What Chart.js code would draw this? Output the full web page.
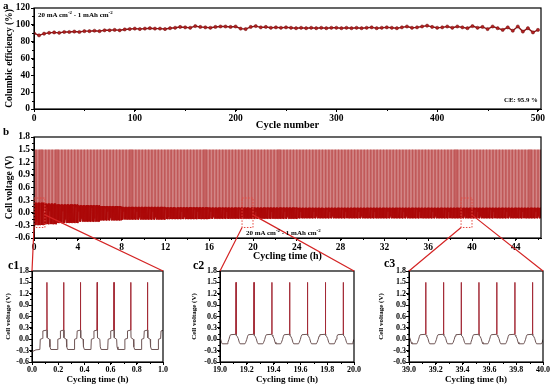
<!DOCTYPE html>
<html>
<head>
<meta charset="utf-8">
<script src="https://cdn.jsdelivr.net/npm/chart.js@4.4.1/dist/chart.umd.min.js"></script>
<style>
  body { margin: 0; width: 556px; height: 385px; background: #fff; position: relative; overflow: hidden;
         font-family: "Liberation Serif", "Times New Roman", serif; font-weight: bold; color: #000; }
  canvas { position: absolute; }
  .lbl { position: absolute; white-space: nowrap; line-height: 1; }
  .lbl sup { font-size: 70%; vertical-align: top; position: relative; top: -0.25em; }
</style>
</head>
<body>
<canvas id="ca" width="556" height="134" style="left:0;top:0"></canvas>
<canvas id="cb" width="556" height="139" style="left:0;top:124px"></canvas>
<canvas id="cc1" width="185" height="127" style="left:0;top:258px"></canvas>
<canvas id="cc2" width="185" height="127" style="left:185px;top:258px"></canvas>
<canvas id="cc3" width="186" height="127" style="left:370px;top:258px"></canvas>
<canvas id="ov" width="556" height="385" style="left:0;top:0;pointer-events:none"></canvas>

<div class="lbl" style="left:3px;top:0;font-size:11px">a</div>
<div class="lbl" style="left:38px;top:12px;font-size:7px">20 mA cm<sup>-2</sup> - 1 mAh cm<sup>-2</sup></div>
<div class="lbl" style="left:504px;top:97px;font-size:6.8px">CE: 95.9 %</div>
<div class="lbl" style="left:3px;top:126px;font-size:11px">b</div>
<div class="lbl" style="left:246px;top:230px;font-size:7px">20 mA cm<sup>-2</sup> - 1 mAh cm<sup>-2</sup></div>
<div class="lbl" style="left:8px;top:259px;font-size:12px">c1</div>
<div class="lbl" style="left:193px;top:259px;font-size:12px">c2</div>
<div class="lbl" style="left:384px;top:257px;font-size:12px">c3</div>

<script>
// ---- panel a: coulombic efficiency ----
const ceCycles = [0,5,10,15,20,25,30,35,40,45,50,55,60,65,70,75,80,85,90,95,
  100,105,110,115,120,125,130,135,140,145,150,155,160,165,170,175,180,185,190,195,
  200,205,210,215,220,225,230,235,240,245,250,255,260,265,270,275,280,285,290,295,
  300,305,310,315,320,325,330,335,340,345,350,355,360,365,370,375,380,385,390,395,
  400,405,410,415,420,425,430,435,440,445,450,455,460,465,470,475,480,485,490,495,500];
const ceValues = [90.0,87.5,89.5,90.5,91.0,90.5,91.5,91.5,92.0,91.5,92.5,92.5,93.0,92.5,93.5,93.5,94.0,93.5,94.5,95.0,
  95.5,95.0,95.5,96.0,95.5,95.5,95.0,96.0,96.5,97.5,97.0,96.5,98.5,97.5,97.0,96.5,97.5,98.0,98.0,97.5,
  98.0,95.5,95.0,97.5,98.5,97.0,97.5,96.5,97.0,96.5,97.0,96.5,96.0,96.5,96.0,96.5,96.0,96.5,96.0,96.5,
  96.5,96.0,96.5,96.0,96.5,96.0,96.5,97.0,96.0,96.5,97.0,96.5,96.0,97.0,98.0,96.5,97.0,98.0,99.0,97.5,
  96.5,97.0,98.0,96.5,98.0,97.0,96.0,98.5,96.5,97.5,95.0,98.0,96.0,94.0,97.0,93.0,98.0,92.0,96.0,91.0,94.0];
const ceTickX = [0, 100, 200, 300, 400, 500];
const ceTickY = [0, 20, 40, 60, 80, 100, 120];

const earlyDt   = [0, 0.001, 0.002, 0.020, 0.023, 0.030, 0.080, 0.083, 0.100, 0.103, 0.126];
const earlyVolt = [1.50, 0.24, 0.04, 0.00, -0.20, -0.27, -0.27, 0.00, 0.02, 0.22, 0.24];
const lateDt    = [0, 0.001, 0.002, 0.008, 0.016, 0.024, 0.030, 0.066, 0.072, 0.080, 0.086, 0.092, 0.131];
const lateVolt  = [1.50, 0.13, 0.10, 0.08, 0.02, -0.08, -0.12, -0.12, -0.08, 0.00, 0.08, 0.12, 0.13];

const startT = [0.000, 0.030, 0.060, 0.063, 0.080, 0.083, 0.112];
const startV = [-0.33, -0.28, -0.27, 0.00, 0.02, 0.22, 0.24];
const c1Spikes = [0.114, 0.242, 0.370, 0.498, 0.626, 0.754, 0.882];
const c2Spikes = [18.987, 19.120, 19.254, 19.387, 19.520, 19.653, 19.787, 19.920];
const c3Spikes = [38.992, 39.125, 39.258, 39.390, 39.522, 39.655, 39.790, 39.922];

// panel b: cycle period and the low / high plateau levels as they narrow over time
const bPeriod = 0.1325, bFirstSpike = 0.114, bEnd = 46.3, bEarlyUntil = 1;
const bEnvHours = [0, 1, 2, 4, 6, 8, 12, 16, 24];
const bEnvLow   = [-0.29, -0.27, -0.24, -0.21, -0.18, -0.16, -0.15, -0.14, -0.13];
const bEnvHigh  = [0.24, 0.22, 0.20, 0.18, 0.16, 0.14, 0.13, 0.125, 0.12];
const bTickX = [0, 4, 8, 12, 16, 20, 24, 28, 32, 36, 40, 44];
const voltTicks = [-0.6, -0.3, 0, 0.3, 0.6, 0.9, 1.2, 1.5, 1.8];

// zoomed windows shown in c1..c3
const zoomWindows = [[0, 1], [19, 20], [39, 40]];
const zoomTicks = [
  [0, 0.2, 0.4, 0.6, 0.8, 1.0],
  [19.0, 19.2, 19.4, 19.6, 19.8, 20.0],
  [39.0, 39.2, 39.4, 39.6, 39.8, 40.0]
];
const zoomVolt = [-0.35, 0.35];

function cyclePoints(spikes, dt, volt, env, refLo, refHi) {
  const pts = [];
  spikes.forEach(s => {
    let lo = refLo, hi = refHi;
    if (env) { [lo, hi] = env(s); }
    dt.forEach((d, i) => {
      let v = volt[i];
      if (v < 1) v = v < 0 ? v * lo / refLo : v * hi / refHi;
      pts.push({ x: s + d, y: v });
    });
  });
  return pts;
}

function envAt(t) {
  let k = 0;
  bEnvHours.forEach((h, i) => { if (t >= h) k = i; });
  return [bEnvLow[k], bEnvHigh[k]];
}

const startPts = startT.map((t, i) => ({ x: t, y: startV[i] }));
const c1Data = startPts.concat(cyclePoints(c1Spikes, earlyDt, earlyVolt, null, -0.27, 0.24));
const c2Data = cyclePoints(c2Spikes, lateDt, lateVolt, null, -0.12, 0.13);
const c3Data = cyclePoints(c3Spikes, lateDt, lateVolt, null, -0.12, 0.13);

const bEarly = [], bLate = [];
for (let s = bFirstSpike; s < bEnd + bPeriod; s += bPeriod) (s < bEarlyUntil ? bEarly : bLate).push(s);
const bData = startPts
  .concat(cyclePoints(bEarly, earlyDt, earlyVolt, envAt, -0.27, 0.24))
  .concat(cyclePoints(bLate, lateDt, lateVolt, envAt, -0.12, 0.13));

// ---- chart helpers ----
const serif = '"Liberation Serif", "Times New Roman", serif';

// box around the plot area plus short minor ticks
const framePlugin = {
  id: 'frame',
  afterDraw(chart, args, opts) {
    const { ctx, chartArea: a, scales: { x, y } } = chart;
    ctx.save();
    ctx.strokeStyle = '#000';
    ctx.lineWidth = 1.2;
    ctx.strokeRect(a.left, a.top, a.right - a.left, a.bottom - a.top);
    ctx.lineWidth = 1;
    ctx.beginPath();
    for (let v = Math.ceil(x.min / opts.xMinor - 1e-6) * opts.xMinor; v <= x.max + 1e-9; v += opts.xMinor) {
      const px = Math.round(x.getPixelForValue(v)) + 0.5;
      ctx.moveTo(px, a.bottom); ctx.lineTo(px, a.bottom + 2);
    }
    for (let v = Math.ceil(y.min / opts.yMinor - 1e-6) * opts.yMinor; v <= y.max + 1e-9; v += opts.yMinor) {
      const py = Math.round(y.getPixelForValue(v)) + 0.5;
      ctx.moveTo(a.left, py); ctx.lineTo(a.left - 2, py);
    }
    ctx.stroke();
    ctx.restore();
  }
};
Chart.register(framePlugin);

function axis(o) {
  return {
    type: 'linear',
    min: o.min, max: o.max,
    afterBuildTicks: s => { s.ticks = o.ticks.map(v => ({ value: v })); },
    afterFit: s => {
      if (s.isHorizontal()) s.height = o.size; else s.width = o.size;
      s.paddingLeft = s.paddingRight = s.paddingTop = s.paddingBottom = 0;
    },
    border: { display: true, color: '#000', width: 1 },
    grid: { display: true, drawOnChartArea: false, drawTicks: true, tickLength: 3, color: '#000' },
    ticks: {
      autoSkip: false, maxRotation: 0, padding: o.pad,
      color: '#000', font: { family: serif, size: o.font, weight: 'bold' },
      callback: v => (Math.abs(v) < 1e-9 ? 0 : v).toFixed(o.dec)
    },
    title: {
      display: true, text: o.title, color: '#000', padding: o.titlePad,
      font: { family: serif, size: o.titleSize, weight: 'bold' }
    }
  };
}

function baseOptions(pad, x, y, minor) {
  return {
    responsive: false, animation: false, devicePixelRatio: 1,
    layout: { padding: pad },
    plugins: { legend: { display: false }, tooltip: { enabled: false }, frame: minor },
    scales: { x: axis(x), y: axis(y) }
  };
}

const spikeOf = ctx => Math.max(ctx.p0.parsed.y, ctx.p1.parsed.y) > 0.5;

// ---- panel a ----
new Chart(document.getElementById('ca'), {
  type: 'line',
  data: {
    datasets: [{
      data: ceCycles.map((c, i) => ({ x: c, y: ceValues[i] })),
      borderColor: '#8a1515', borderWidth: 1.4,
      pointRadius: 1.6, pointBackgroundColor: '#b32020', pointBorderColor: '#6e0e0e', pointBorderWidth: 0.5
    }]
  },
  options: baseOptions({ top: 8, right: 15, left: 0, bottom: 0 },
    { min: 0, max: 503, ticks: ceTickX, size: 25, pad: 1, font: 9.5, dec: 0, title: 'Cycle number', titleSize: 10.5, titlePad: { top: 0, bottom: 2 } },
    { min: 0, max: 120, ticks: ceTickY, size: 34, pad: 1, font: 9.5, dec: 0, title: 'Columbic efficiency (%)', titleSize: 9.5, titlePad: { top: 4, bottom: 0 } },
    { xMinor: 50, yMinor: 10 })
});

// ---- panel b ----
const chartB = new Chart(document.getElementById('cb'), {
  type: 'line',
  data: {
    datasets: [{
      data: bData, borderWidth: 1, pointRadius: 0, tension: 0,
      borderColor: 'rgb(172,8,8)',
      segment: { borderColor: ctx => spikeOf(ctx) ? 'rgb(192,88,88)' : 'rgb(172,8,8)' }
    }]
  },
  options: baseOptions({ top: 13, right: 15, left: 0, bottom: 0 },
    { min: 0, max: bEnd, ticks: bTickX, size: 25, pad: 1, font: 9.5, dec: 0, title: 'Cycling time (h)', titleSize: 10, titlePad: { top: 0, bottom: 1 } },
    { min: -0.6, max: 1.8, ticks: voltTicks, size: 34, pad: 1, font: 9.5, dec: 1, title: 'Cell voltage (V)', titleSize: 9.5, titlePad: { top: 4, bottom: 0 } },
    { xMinor: 2, yMinor: 0.15 })
});

// ---- panels c1..c3 ----
function zoomChart(id, data, i, yWidth, padRight, titleOff) {
  return new Chart(document.getElementById(id), {
    type: 'line',
    data: {
      datasets: [{
        data, borderWidth: 1, pointRadius: 0, tension: 0,
        borderColor: '#6e5555',
        segment: { borderColor: ctx => spikeOf(ctx) ? '#a32a36' : '#6e5555' }
      }]
    },
    options: baseOptions({ top: 13, right: padRight, left: 0, bottom: 0 },
      { min: zoomWindows[i][0], max: zoomWindows[i][1], ticks: zoomTicks[i], size: 23, pad: 0, font: 8, dec: 1, title: 'Cycling time (h)', titleSize: 9, titlePad: { top: 0, bottom: 0 } },
      { min: -0.6, max: 1.8, ticks: voltTicks, size: yWidth, pad: 0, font: 8, dec: 1, title: 'Cell voltage (V)', titleSize: 7, titlePad: { top: titleOff, bottom: 0 } },
      { xMinor: 0.1, yMinor: 0.15 })
  });
}

const cCharts = [
  zoomChart('cc1', c1Data, 0, 32, 22, 4),
  zoomChart('cc2', c2Data, 1, 35, 16, 5),
  zoomChart('cc3', c3Data, 2, 39, 13, 7)
];

// ---- zoom markers on b and lines to c1..c3 ----
const ov = document.getElementById('ov').getContext('2d');
const bCanvas = chartB.canvas;
const bx = chartB.scales.x, by = chartB.scales.y;
zoomWindows.forEach((w, i) => {
  const x0 = bx.getPixelForValue(w[0]) + bCanvas.offsetLeft;
  const x1 = bx.getPixelForValue(w[1]) + bCanvas.offsetLeft;
  const yTop = by.getPixelForValue(zoomVolt[1]) + bCanvas.offsetTop;
  const yBot = by.getPixelForValue(zoomVolt[0]) + bCanvas.offsetTop;
  const yMid = by.getPixelForValue(-0.05) + bCanvas.offsetTop;
  ov.save();
  ov.strokeStyle = '#e5483f';
  ov.lineWidth = 1;
  ov.setLineDash([1.5, 1.5]);
  ov.strokeRect(x0, yTop, x1 - x0, yBot - yTop);
  ov.restore();

  const c = cCharts[i], cc = c.canvas, a = c.chartArea;
  ov.save();
  ov.strokeStyle = '#d42424';
  ov.lineWidth = 1.2;
  ov.beginPath();
  ov.moveTo(x0, yBot); ov.lineTo(cc.offsetLeft + a.left, cc.offsetTop + a.top);
  ov.moveTo(x1, yMid); ov.lineTo(cc.offsetLeft + a.right, cc.offsetTop + a.top);
  ov.stroke();
  ov.restore();
});
</script>
</body>
</html>
